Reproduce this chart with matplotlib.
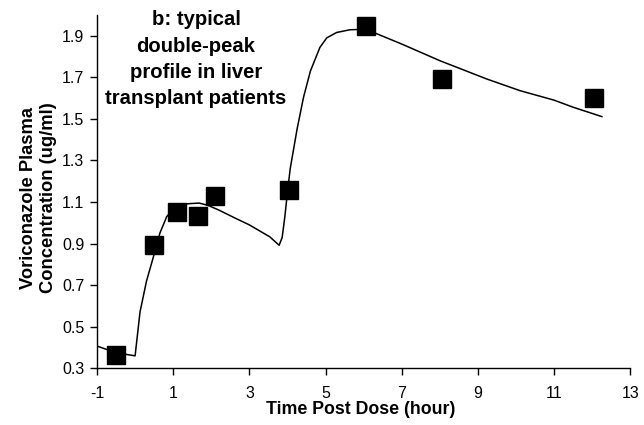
import matplotlib
matplotlib.use("Agg")
import matplotlib.pyplot as plt

plt.rcParams['font.family'] = ['Liberation Sans', 'DejaVu Sans']

# Observed concentrations
obs_time = [-0.5, 0.5, 1.1, 1.65, 2.1, 4.05, 6.05, 8.05, 12.05]
obs_conc = [0.365, 0.895, 1.05, 1.035, 1.13, 1.16, 1.945, 1.69, 1.60]

# Model-predicted profile
fit_time = [-1.0, -0.5, 0.0, 0.13, 0.3, 0.48, 0.65, 0.83, 1.09, 1.4, 1.68, 1.9, 2.18,
            2.6, 3.0, 3.54, 3.78, 3.86, 3.93, 4.0, 4.07, 4.25, 4.42, 4.6, 4.85,
            5.03, 5.29, 5.64, 5.82, 6.3, 7.0, 8.0, 9.23, 10.1, 11.0, 11.5, 12.25]
fit_conc = [0.407, 0.375, 0.36, 0.572, 0.72, 0.836, 0.95, 1.03, 1.084, 1.092, 1.095,
            1.085, 1.063, 1.025, 0.99, 0.932, 0.892, 0.93, 1.03, 1.15, 1.26, 1.45,
            1.604, 1.73, 1.844, 1.89, 1.916, 1.929, 1.93, 1.913, 1.86, 1.78, 1.692,
            1.636, 1.59, 1.556, 1.511]

x_ticks = [-1, 1, 3, 5, 7, 9, 11, 13]
y_ticks = [0.3, 0.5, 0.7, 0.9, 1.1, 1.3, 1.5, 1.7, 1.9]

W, H = 644, 425
fig = plt.figure(figsize=(W / 100, H / 100), dpi=100)
ax = fig.add_axes([0.1506, 0.1334, 0.8284, 0.8313])

ax.plot(fit_time, fit_conc, color='black', lw=1.1, zorder=2)
ax.plot(obs_time, obs_conc, linestyle='none', marker='s', markersize=12.5,
        color='black', zorder=3)

ax.set_xlim(-1, 13)
ax.set_ylim(0.3, 2.0)
ax.set_xticks(x_ticks)
ax.set_yticks(y_ticks)
ax.set_xticklabels([str(t) for t in x_ticks])
ax.set_yticklabels([f"{t:.1f}" for t in y_ticks])

for side in ('top', 'right'):
    ax.spines[side].set_visible(False)
for side in ('left', 'bottom'):
    ax.spines[side].set_linewidth(1.0)
ax.tick_params(axis='both', direction='out', length=5, width=1.0, labelsize=11.5)
ax.tick_params(axis='x', pad=8)
ax.tick_params(axis='y', pad=4)

fig.text(361 / W, 1 - 410 / H, 'Time Post Dose (hour)', ha='center', va='center',
         fontsize=12.8, fontweight='bold')
fig.text(38.5 / W, 1 - 198 / H, 'Voriconazole Plasma\nConcentration (ug/ml)',
         ha='center', va='center', rotation=90, fontsize=13.2, fontweight='bold',
         linespacing=1.3)

fig.text(196 / W, 1 - 10 / H, 'b: typical\ndouble-peak\nprofile in liver\ntransplant patients',
         ha='center', va='top', fontsize=14.6, fontweight='bold', linespacing=1.5)

fig.savefig('out.png', dpi=100)
